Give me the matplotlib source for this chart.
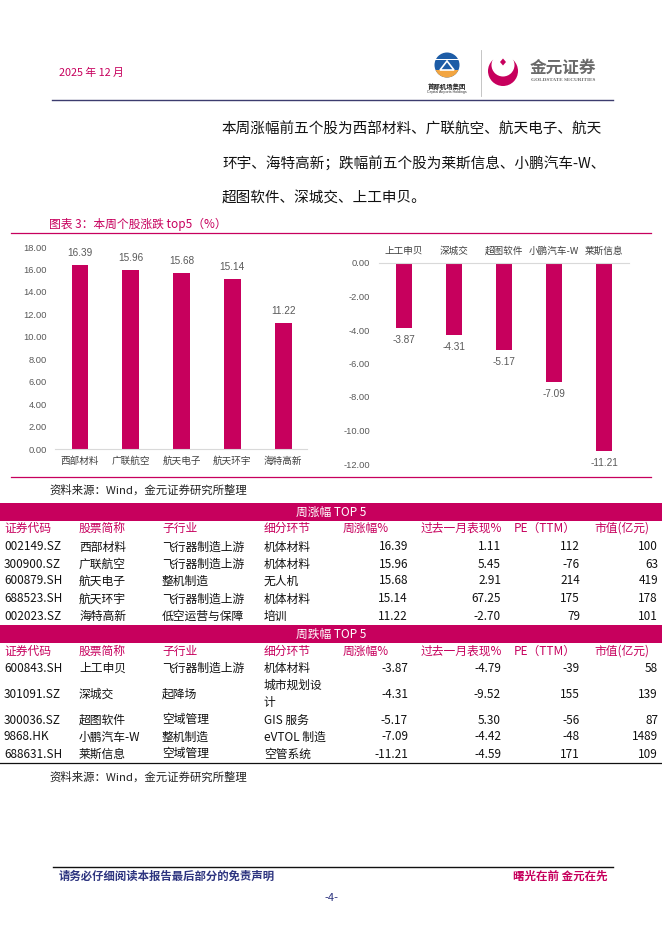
import numpy as np
import matplotlib
matplotlib.use("Agg")
import matplotlib.pyplot as plt
from matplotlib.patches import Circle, Rectangle, Polygon

plt.rcParams['font.family'] = ['Noto Sans CJK SC', 'DejaVu Sans']

# data read from the page
gain_names = ['西部材料', '广联航空', '航天电子', '航天环宇', '海特高新']
gain_pct = [16.39, 15.96, 15.68, 15.14, 11.22]
loss_names = ['上工申贝', '深城交', '超图软件', '小鹏汽车-W', '莱斯信息']
loss_pct = [-3.87, -4.31, -5.17, -7.09, -11.21]

gain_codes = ['002149.SZ', '300900.SZ', '600879.SH', '688523.SH', '002023.SZ']
gain_sub = ['飞行器制造上游', '飞行器制造上游', '整机制造', '飞行器制造上游', '低空运营与保障']
gain_seg = ['机体材料', '机体材料', '无人机', '机体材料', '培训']
gain_month = [1.11, 5.45, 2.91, 67.25, -2.70]
gain_pe = [112, -76, 214, 175, 79]
gain_mv = [100, 63, 419, 178, 101]

loss_codes = ['600843.SH', '301091.SZ', '300036.SZ', '9868.HK', '688631.SH']
loss_sub = ['飞行器制造上游', '起降场', '空域管理', '整机制造', '空域管理']
loss_seg = ['机体材料', '城市规划设计', 'GIS 服务', 'eVTOL 制造', '空管系统']
loss_month = [-4.79, -9.52, 5.30, -4.42, -4.59]
loss_pe = [-39, 155, -56, -48, 171]
loss_mv = [58, 139, 87, 1489, 109]

col_heads = ['证券代码', '股票简称', '子行业', '细分环节', '周涨幅%', '过去一月表现%', 'PE（TTM）', '市值(亿元)']

para = ['本周涨幅前五个股为西部材料、广联航空、航天电子、航天',
        '环宇、海特高新；跌幅前五个股为莱斯信息、小鹏汽车-W、',
        '超图软件、深城交、上工申贝。']

PINK = '#C7005D'
NAVY = '#2E3580'
GREY = '#595959'
W, H = 662, 936

fig = plt.figure(figsize=(6.62, 9.36), dpi=100)
fig.patch.set_facecolor('white')

# page layer in pixel coords
pg = fig.add_axes([0, 0, 1, 1])
pg.set_xlim(0, W)
pg.set_ylim(H, 0)
pg.axis('off')

# header
pg.text(59, 73, '2025 年 12 月', fontsize=7.8, color=PINK, va='center')
pg.plot([52, 613], [100, 100], color='#3C3C6E', lw=1.0)

# capital airports logo (rough)
blue = Circle((447, 65), 12.5, fc='#1D5CA6', ec='none')
pg.add_patch(blue)
orange = Polygon([(430, 70), (464, 70), (464, 80), (430, 80)], fc='#F2A541', ec='none')
pg.add_patch(orange)
orange.set_clip_path(blue)
pg.add_patch(Rectangle((434, 58.5), 26, 1.6, fc='white', ec='none'))
pg.add_patch(Polygon([(440, 70), (447, 61), (454, 70)], fill=False, ec='white', lw=1.2))
pg.text(447, 86, '首都机场集团', fontsize=4.6, fontweight='bold', color='#222222', ha='center', va='center')
pg.text(447, 91.5, 'Capital Airports Holdings', fontsize=2.6, color='#333333', ha='center', va='center',
        family='Liberation Sans')
pg.plot([481, 481], [50, 96], color='#BBBBBB', lw=0.6)

# goldstate logo (rough)
pg.add_patch(Circle((503, 71), 15, fc=PINK, ec='none'))
pg.add_patch(Circle((503, 65), 11.5, fc='white', ec='none'))
pg.add_patch(Polygon([(503, 58.5), (506, 62), (503, 65.5), (500, 62)], fc=PINK, ec='none'))
pg.text(563, 68, '金元证券', fontsize=12, fontweight='bold', color='#6A6A6A', ha='center', va='center')
pg.text(563, 80, 'GOLDSTATE SECURITIES', fontsize=3.8, fontweight='bold', color='#6A6A6A',
        ha='center', va='center', family='Liberation Serif')

# paragraph
for k, line in enumerate(para):
    pg.text(222, [130, 164, 199][k], line, fontsize=10.5, color='#111111', va='center')

# figure title and frame lines
pg.text(49, 224, '图表 3：本周个股涨跌 top5（%）', fontsize=8.5, color=PINK, va='center')
pg.plot([11, 651], [233, 233], color=PINK, lw=0.9)
pg.plot([11, 651], [477, 477], color=PINK, lw=0.9)
pg.text(49, 490, '资料来源：Wind，金元证券研究所整理', fontsize=8.2, color='#222222', va='center')


def px_axes(x0, y0, x1, y1):
    return fig.add_axes([x0 / W, 1 - y1 / H, (x1 - x0) / W, (y1 - y0) / H])


# left chart: gainers
ax1 = px_axes(55, 247, 307, 449)
x = np.arange(len(gain_names))
ax1.bar(x, gain_pct, width=0.33, color=PINK)
ax1.set_xlim(-0.49, 4.47)
ax1.set_ylim(0, 18)
yt = np.arange(0, 19, 2)
ax1.set_yticks(yt, labels=[f'{t:.2f}' for t in yt], family='Liberation Sans')
ax1.set_xticks(x, labels=gain_names)
ax1.tick_params(axis='y', length=0, pad=5.8, labelsize=6.7, labelcolor=GREY)
ax1.tick_params(axis='x', length=0, pad=5.5, labelsize=6.9, labelcolor='#404040')
for s in ['top', 'right', 'left']:
    ax1.spines[s].set_visible(False)
ax1.spines['bottom'].set_color('#D9D9D9')
ax1.spines['bottom'].set_linewidth(0.8)
for i, v in enumerate(gain_pct):
    ax1.annotate(f'{v:.2f}', (i, v), xytext=(0, 8.6), textcoords='offset points',
                 ha='center', va='center', fontsize=7.2, color=GREY, family='Liberation Sans')

# right chart: losers
ax2 = px_axes(379, 263, 629, 464)
x = np.arange(len(loss_names))
ax2.bar(x, loss_pct, width=0.32, color=PINK)
ax2.set_xlim(-0.5, 4.5)
ax2.set_ylim(-12, 0)
yt = np.arange(-12, 1, 2)
ax2.set_yticks(yt, labels=[f'{t:.2f}' for t in yt], family='Liberation Sans')
ax2.xaxis.tick_top()
ax2.set_xticks(x, labels=loss_names)
ax2.tick_params(axis='y', length=0, pad=6.5, labelsize=6.7, labelcolor=GREY)
ax2.tick_params(axis='x', length=0, pad=5, labelsize=6.9, labelcolor='#404040')
for s in ['bottom', 'right', 'left']:
    ax2.spines[s].set_visible(False)
ax2.spines['top'].set_color('#D9D9D9')
ax2.spines['top'].set_linewidth(0.8)
for i, v in enumerate(loss_pct):
    ax2.annotate(f'{v:.2f}', (i, v), xytext=(0, -8.6), textcoords='offset points',
                 ha='center', va='center', fontsize=7.2, color=GREY, family='Liberation Sans')

# table
left_x = [4, 79, 162, 264]
head_x = [343, 421, 514, 594]
num_r = [408, 501, 580, 658]
FS = 8.5


def block(bar_top, title, head_y, row_ys, codes, names, subs, segs, pct, month, pe, mv):
    pg.add_patch(Rectangle((0, bar_top), W, 18, fc=PINK, ec='none'))
    pg.text(331, bar_top + 9, title, fontsize=FS, color='white', ha='center', va='center')
    for j, h in enumerate(col_heads):
        xx = left_x[j] if j < 4 else head_x[j - 4]
        pg.text(xx, head_y, h, fontsize=FS, color=PINK, va='center')
    for r, yy in enumerate(row_ys):
        pg.text(left_x[0], yy, codes[r], fontsize=FS, color='#111111', va='center')
        pg.text(left_x[1], yy, names[r], fontsize=FS, color='#111111', va='center')
        pg.text(left_x[2], yy, subs[r], fontsize=FS, color='#111111', va='center')
        seg = segs[r]
        # the narrow column wraps long all-Chinese entries after 5 chars
        if len(seg) > 5 and ' ' not in seg:
            pg.text(left_x[3], yy - 8.5, seg[:5], fontsize=FS, color='#111111', va='center')
            pg.text(left_x[3], yy + 8.5, seg[5:], fontsize=FS, color='#111111', va='center')
        else:
            pg.text(left_x[3], yy, seg, fontsize=FS, color='#111111', va='center')
        vals = [f'{pct[r]:.2f}', f'{month[r]:.2f}', f'{pe[r]}', f'{mv[r]}']
        for c, sv in enumerate(vals):
            pg.text(num_r[c], yy, sv, fontsize=FS, color='#111111', ha='right', va='center')


block(503, '周涨幅 TOP 5', 528, [547, 564, 581, 599, 616],
      gain_codes, gain_names, gain_sub, gain_seg, gain_pct, gain_month, gain_pe, gain_mv)
block(625, '周跌幅 TOP 5', 651, [668, 694, 720, 737, 754],
      loss_codes, loss_names, loss_sub, loss_seg, loss_pct, loss_month, loss_pe, loss_mv)
pg.plot([0, W], [763, 763], color='#111111', lw=0.9)
pg.text(49, 777, '资料来源：Wind，金元证券研究所整理', fontsize=8.2, color='#222222', va='center')

# footer
pg.plot([53, 613], [867, 867], color='#111111', lw=1.0)
pg.text(59, 876, '请务必仔细阅读本报告最后部分的免责声明', fontsize=8.2, fontweight='bold',
        color=NAVY, va='center')
pg.text(608, 876, '曙光在前 金元在先', fontsize=8.3, fontweight='bold', color=PINK,
        ha='right', va='center')
pg.text(331, 898, '-4-', fontsize=8, color=NAVY, ha='center', va='center')

fig.savefig('out.png', dpi=100)
